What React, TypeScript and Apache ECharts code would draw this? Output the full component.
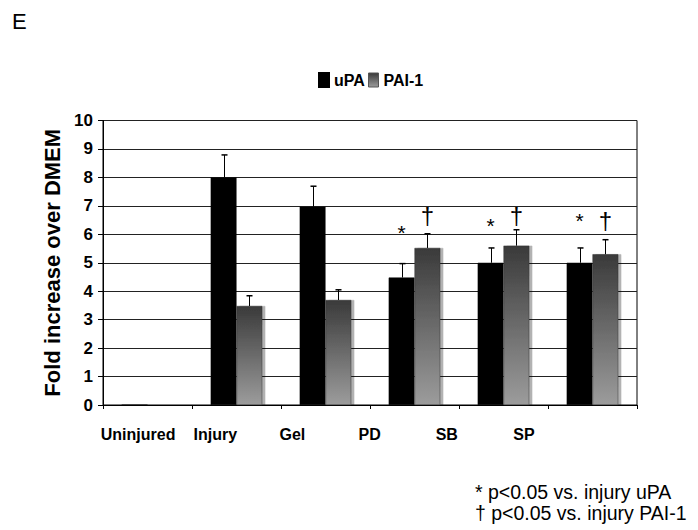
import React, { useEffect, useRef } from "react";
import * as echarts from "echarts";

const categories = ["Uninjured", "Injury", "Gel", "PD", "SB", "SP"];
const upaValues = [0, 8.0, 6.97, 4.48, 5.0, 5.0];
const paiValues = [0, 3.48, 3.69, 5.52, 5.6, 5.3];
const upaErrors = [0, 0.79, 0.72, 0.49, 0.52, 0.52];
const paiErrors = [0, 0.36, 0.36, 0.5, 0.56, 0.51];
const upaMarks = ["", "", "", "*", "*", "*"];
const upaMarkY = [0, 0, 0, 6.08, 6.32, 6.49];
const paiMarks = ["", "", "", "†", "†", "†"];
const paiMarkY = [0, 0, 0, 6.67, 6.67, 6.49];
const yTicks = { min: 0, max: 10, interval: 1 };
const footnotes = ["* p<0.05 vs. injury uPA", "† p<0.05 vs. injury PAI-1"];

const SANS = "'Liberation Sans', Arial, sans-serif";
const BAR_FRAC = 0.29;

export default function App() {
  const ref = useRef<HTMLDivElement>(null);
  useEffect(() => {
    if (!ref.current) return;
    const chart = echarts.init(ref.current, null, { renderer: "svg" });

    const paiGradient = new echarts.graphic.LinearGradient(0, 0, 0, 1, [
      { offset: 0, color: "#3a3a3a" },
      { offset: 1, color: "#9c9c9c" },
    ]);

    const errRender = (sign: number) => (params: any, api: any) => {
      const idx = api.value(0);
      const v = api.value(1);
      const e = api.value(2);
      if (!e) return null;
      const band = api.size([1, 0])[0];
      const bw = band * BAR_FRAC;
      const base = api.coord([idx, v]);
      const top = api.coord([idx, v + e]);
      const x = Math.round(base[0] + (sign * bw) / 2) + 0.5;
      return {
        type: "group",
        children: [
          { type: "line", shape: { x1: x, y1: base[1], x2: x, y2: top[1] }, style: { stroke: "#000", lineWidth: 1 } },
          { type: "line", shape: { x1: x - 3, y1: top[1], x2: x + 3, y2: top[1] }, style: { stroke: "#000", lineWidth: 1.5 } },
        ],
      };
    };

    const markRender = (sign: number, marks: string[], size: number) => (params: any, api: any) => {
      const idx = api.value(0);
      const y = api.value(1);
      const t = marks[idx];
      if (!t) return null;
      const band = api.size([1, 0])[0];
      const bw = band * BAR_FRAC;
      const p = api.coord([idx, y]);
      return {
        type: "text",
        x: p[0] + (sign * bw) / 2,
        y: p[1],
        style: { text: t, fill: "#000", font: `${size}px ${SANS}`, align: "center", verticalAlign: "middle" },
      };
    };

    const legendText = { fontFamily: SANS, fontWeight: "bold", fontSize: 16, color: "#000" };

    chart.setOption({
      animation: false,
      backgroundColor: "#fff",
      legend: [
        {
          left: 313,
          top: 67,
          icon: "rect",
          itemWidth: 10,
          itemHeight: 14,
          selectedMode: false,
          textStyle: legendText,
          data: [{ name: "uPA", itemStyle: { color: "#000" } }],
        },
        {
          left: 363,
          top: 67,
          icon: "rect",
          itemWidth: 10,
          itemHeight: 14,
          selectedMode: false,
          textStyle: legendText,
          data: [{ name: "PAI-1", itemStyle: { color: paiGradient, borderColor: "#555", borderWidth: 1 } }],
        },
      ],
      grid: [
        { left: 103, top: 120.5, width: 534, height: 284.5, show: true, borderColor: "#000", borderWidth: 1, backgroundColor: "transparent" },
        { left: 99.5, top: 120.5, width: 463, height: 284.5, show: false },
      ],
      xAxis: [
        {
          type: "category",
          gridIndex: 0,
          data: categories,
          axisLine: { lineStyle: { color: "#000", width: 1 } },
          axisTick: { show: true, length: 4, lineStyle: { color: "#000" } },
          axisLabel: { show: false },
        },
        {
          type: "category",
          gridIndex: 1,
          data: categories,
          axisLine: { show: false },
          axisTick: { show: false },
          axisLabel: { interval: 0, margin: 21, fontFamily: SANS, fontWeight: "bold", fontSize: 16, color: "#000" },
        },
      ],
      yAxis: [
        {
          type: "value",
          gridIndex: 0,
          min: yTicks.min,
          max: yTicks.max,
          interval: yTicks.interval,
          name: "Fold increase over DMEM",
          nameLocation: "middle",
          nameGap: 17,
          nameTextStyle: { fontFamily: SANS, fontWeight: "bold", fontSize: 22, color: "#000" },
          axisLine: { show: true, lineStyle: { color: "#000" } },
          axisTick: { show: true, length: 5, lineStyle: { color: "#000" } },
          axisLabel: { margin: 10, fontFamily: SANS, fontWeight: "bold", fontSize: 17, color: "#000" },
          splitLine: { show: true, lineStyle: { color: "#222", width: 1 } },
        },
        { type: "value", gridIndex: 1, min: 0, max: 10, show: false },
      ],
      series: [
        {
          name: "uPA",
          type: "bar",
          xAxisIndex: 0,
          yAxisIndex: 0,
          data: upaValues,
          barWidth: BAR_FRAC * 100 + "%",
          barGap: "0%",
          itemStyle: { color: "#000", borderColor: "#000", borderWidth: 0.5 },
        },
        {
          name: "PAI-1",
          type: "bar",
          xAxisIndex: 0,
          yAxisIndex: 0,
          data: paiValues,
          barWidth: BAR_FRAC * 100 + "%",
          barGap: "0%",
          itemStyle: {
            color: paiGradient,
            borderColor: "#333",
            borderWidth: 0.5,
            shadowColor: "rgba(0,0,0,0.3)",
            shadowOffsetX: 3,
            shadowOffsetY: 0,
            shadowBlur: 0,
          },
        },
        {
          type: "custom",
          xAxisIndex: 0,
          yAxisIndex: 0,
          renderItem: errRender(-1),
          data: categories.map((_, i) => [i, upaValues[i], upaErrors[i]]),
          z: 5,
        },
        {
          type: "custom",
          xAxisIndex: 0,
          yAxisIndex: 0,
          renderItem: errRender(1),
          data: categories.map((_, i) => [i, paiValues[i], paiErrors[i]]),
          z: 5,
        },
        {
          type: "custom",
          xAxisIndex: 0,
          yAxisIndex: 0,
          renderItem: markRender(-1, upaMarks, 21),
          data: categories.map((_, i) => [i, upaMarkY[i]]),
          z: 6,
        },
        {
          type: "custom",
          xAxisIndex: 0,
          yAxisIndex: 0,
          renderItem: markRender(1, paiMarks, 24),
          data: categories.map((_, i) => [i, paiMarkY[i]]),
          z: 6,
        },
      ],
      graphic: [
        { type: "text", left: 12, top: 10, style: { text: "E", font: `22px ${SANS}`, fill: "#000" } },
        { type: "text", left: 475, top: 482, style: { text: footnotes[0], font: `19.5px ${SANS}`, fill: "#000" } },
        { type: "text", left: 475, top: 503, style: { text: footnotes[1], font: `19.5px ${SANS}`, fill: "#000" } },
      ],
    });
    return () => chart.dispose();
  }, []);
  return <div ref={ref} style={{ width: 698, height: 530, marginLeft: -8, marginTop: -8 }} />;
}
